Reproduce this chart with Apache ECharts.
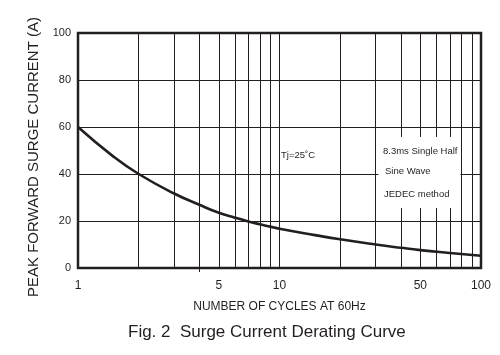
<!DOCTYPE html>
<html>
<head>
<meta charset="utf-8">
<script src="https://cdn.jsdelivr.net/npm/echarts@6/dist/echarts.min.js"></script>
<style>
html,body{margin:0;padding:0;background:#fff;}
#chart{width:500px;height:355px;}
</style>
</head>
<body>
<div id="chart"></div>
<script>
// Data
var cycles = [1, 1.5, 2, 3, 4, 5, 6, 7, 8, 9, 10, 15, 20, 30, 40, 50, 70, 100];
var current = [60, 47.4, 40, 31.7, 26.9, 23.5, 21.4, 19.8, 18.6, 17.6, 16.7, 14.0, 12.2, 10.0, 8.6, 7.6, 6.4, 5.2];
var gridCycles = [2, 3, 4, 5, 6, 7, 8, 9, 10, 20, 30, 40, 50, 60, 70, 80, 90];
var xTickLabels = [1, 5, 10, 50, 100];
var yTickLabels = [0, 20, 40, 60, 80, 100];

var FONT = '"Liberation Sans", Arial, sans-serif';
var INK = '#231f20';

var chart = echarts.init(document.getElementById('chart'), null, {renderer: 'canvas'});

var option = {
  animation: false,
  backgroundColor: '#fff',
  grid: {
    left: 78, right: 19, top: 33, bottom: 87,
    show: true, borderColor: INK, borderWidth: 2.5, backgroundColor: 'transparent'
  },
  xAxis: {
    type: 'log', logBase: 10, min: 1, max: 100,
    name: 'NUMBER OF CYCLES AT 60Hz',
    nameLocation: 'middle', nameGap: 33,
    nameTextStyle: {fontFamily: FONT, fontSize: 12, color: INK, verticalAlign: 'top'},
    axisLine: {show: false},
    axisTick: {show: true, customValues: [4], length: 4, lineStyle: {color: INK, width: 1}},
    splitLine: {show: false},
    minorTick: {show: false},
    axisLabel: {
      customValues: xTickLabels,
      fontFamily: FONT, fontSize: 12, color: INK, margin: 12
    }
  },
  yAxis: {
    type: 'value', min: 0, max: 100, interval: 20,
    axisLine: {show: false},
    axisTick: {show: false},
    splitLine: {show: true, lineStyle: {color: INK, width: 1}},
    axisLabel: {
      fontFamily: FONT, fontSize: 11, color: INK, margin: 7,
      formatter: function (v) { return yTickLabels.indexOf(v) >= 0 ? String(v) : ''; }
    }
  },
  series: [{
    type: 'line',
    data: cycles.map(function (c, i) { return [c, current[i]]; }),
    smooth: 0.5,
    showSymbol: false,
    z: 3,
    lineStyle: {color: INK, width: 2.6},
    markLine: {
      z: 1,
      silent: true,
      symbol: ['none', 'none'],
      label: {show: false},
      lineStyle: {color: INK, width: 1, type: 'solid'},
      data: gridCycles.map(function (c) { return {xAxis: c}; })
    }
  }],
  graphic: [
    {type: 'text', x: 34, y: 157, rotation: Math.PI / 2, z: 100,
     style: {text: 'PEAK FORWARD SURGE CURRENT (A)', font: '15px ' + FONT, fill: INK,
             align: 'center', verticalAlign: 'middle'}},
    {type: 'text', x: 128, y: 332, z: 100,
     style: {text: 'Fig. 2  Surge Current Derating Curve', font: '17px ' + FONT, fill: INK,
             verticalAlign: 'middle'}},
    {type: 'rect', x: 280, y: 147, z: 99, shape: {width: 36, height: 16}, style: {fill: '#fff'}},
    {type: 'text', x: 281, y: 155, z: 100,
     style: {text: 'Tj=25\u02daC', font: '9.5px ' + FONT, fill: INK, verticalAlign: 'middle'}},
    {type: 'rect', x: 378.5, y: 137, z: 99, shape: {width: 82, height: 71}, style: {fill: '#fff'}},
    {type: 'text', x: 383, y: 151, z: 100,
     style: {text: '8.3ms Single Half', font: '9.5px ' + FONT, fill: INK, verticalAlign: 'middle'}},
    {type: 'text', x: 385, y: 171, z: 100,
     style: {text: 'Sine Wave', font: '9.5px ' + FONT, fill: INK, verticalAlign: 'middle'}},
    {type: 'text', x: 384, y: 194, z: 100,
     style: {text: 'JEDEC method', font: '9.5px ' + FONT, fill: INK, verticalAlign: 'middle'}}
  ]
};
chart.setOption(option);
</script>
</body>
</html>
